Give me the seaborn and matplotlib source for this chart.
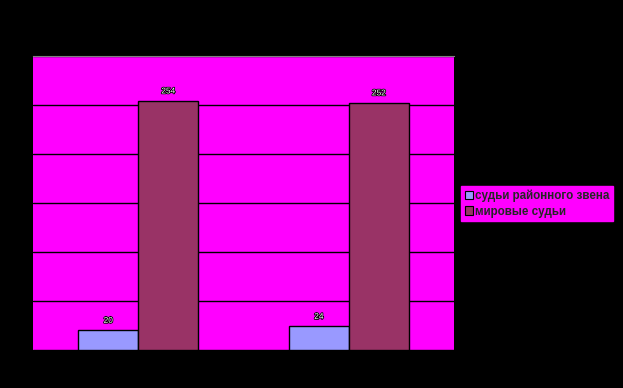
import matplotlib.pyplot as plt
import matplotlib.patheffects as pe
import pandas as pd
import seaborn as sns

groups = ["1", "2"]
series = ["судьи районного звена", "мировые судьи"]
district_judges = [20, 24]
magistrates = [254, 252]

df = pd.DataFrame(
    {
        "group": groups * 2,
        "series": [series[0]] * 2 + [series[1]] * 2,
        "value": district_judges + magistrates,
    }
)

palette = ["#9999FF", "#993366"]

sns.set_style("white")
plt.rcParams["font.family"] = ["Liberation Sans", "DejaVu Sans"]

fig = plt.figure(figsize=(6.23, 3.88), dpi=100, facecolor="black")
ax = fig.add_axes([0.053, 0.098, 0.676, 0.758])
ax.set_facecolor("#FF00FF")

sns.barplot(
    data=df,
    x="group",
    y="value",
    hue="series",
    palette=palette,
    width=0.57,
    edgecolor="black",
    linewidth=1,
    saturation=1,
    ax=ax,
    legend=False,
    zorder=3,
)

ax.set_ylim(0, 300)
ax.set_yticks(range(0, 301, 50))
ax.yaxis.grid(True, color="black", linewidth=1, zorder=0)
ax.set_axisbelow(True)
ax.set_xlabel("")
ax.set_ylabel("")
ax.set_xticklabels([])
ax.set_yticklabels([])
ax.tick_params(length=0)
for s in ["left", "right", "bottom"]:
    ax.spines[s].set_visible(False)
ax.spines["top"].set_color("#808080")

for cont in ax.containers:
    for bar in cont:
        h = bar.get_height()
        ax.annotate(
            "{:g}".format(h),
            (bar.get_x() + bar.get_width() / 2, h),
            xytext=(0, 4),
            textcoords="offset points",
            ha="center",
            va="bottom",
            fontsize=6,
            color="white",
            path_effects=[pe.withStroke(linewidth=1.2, foreground="black")],
        )

handles = [plt.Rectangle((0, 0), 1, 1, facecolor=c, edgecolor="black", linewidth=0.8) for c in palette]
leg = fig.legend(
    handles,
    series,
    loc="upper left",
    bbox_to_anchor=(461 / 623, 1 - 186 / 388),
    frameon=True,
    fancybox=False,
    fontsize=8.4,
    handlelength=0.7,
    handleheight=0.7,
    handletextpad=0.2,
    borderpad=0.3,
    labelspacing=0.3,
    borderaxespad=0,
)
leg.get_frame().set_facecolor("#FF00FF")
leg.get_frame().set_edgecolor("#FF00FF")
leg.get_frame().set_alpha(1)
for t in leg.get_texts():
    t.set_fontweight("bold")

fig.savefig("out.png", dpi=100, facecolor="black")
